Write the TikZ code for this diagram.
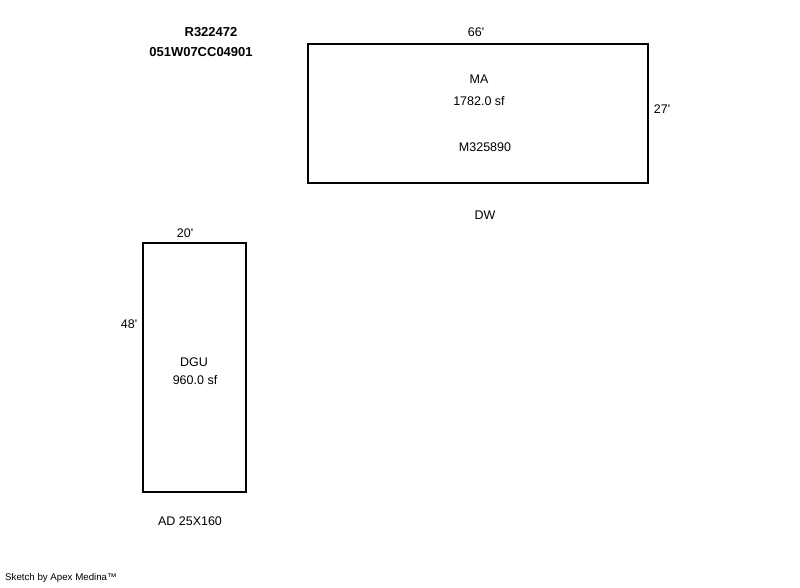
\documentclass[tikz,border=0pt]{standalone}
\usepackage{fontspec}
\setmainfont{Liberation Sans}
\newcommand{\ft}{\textquotesingle}
\begin{document}
\begin{tikzpicture}
[x=1pt,y=-1pt,
every node/.style={inner sep=0pt,font=\fontsize{12.5}{14}\selectfont},
room/.style={shape=rectangle,draw,line width=2pt},
hdr/.style={font=\fontsize{13}{15}\selectfont\bfseries}]

\useasboundingbox (0,0) rectangle (800,587);

% header
\node[hdr] (pid) at (211,32) {R322472};
\node[hdr] (map) at (201,52) {051W07CC04901};

% main area
\node[room,minimum width=340pt,minimum height=139pt] (ma) at (478,113.5) {};
\node (mawid) at (476,32) {66\ft};
\node (mahgt) at (662,109) {27\ft};
\node (maname) at (479,79) {MA};
\node (maarea) at (479,101) {1782.0 sf};
\node (maid) at (485,147) {M325890};
\node (dw) at (485,215) {DW};

% garage
\node[room,minimum width=103pt,minimum height=249pt] (dgu) at (194.5,367.5) {};
\node (dguwid) at (185,233) {20\ft};
\node (dguhgt) at (129,324) {48\ft};
\node (dguname) at (194,362) {DGU};
\node (dguarea) at (195,380) {960.0 sf};
\node (ad) at (190,521) {AD 25X160};

\node[anchor=west,font=\fontsize{9.7}{12}\selectfont] (credit) at (5,578) {Sketch by Apex Medina™};
\end{tikzpicture}
\end{document}
